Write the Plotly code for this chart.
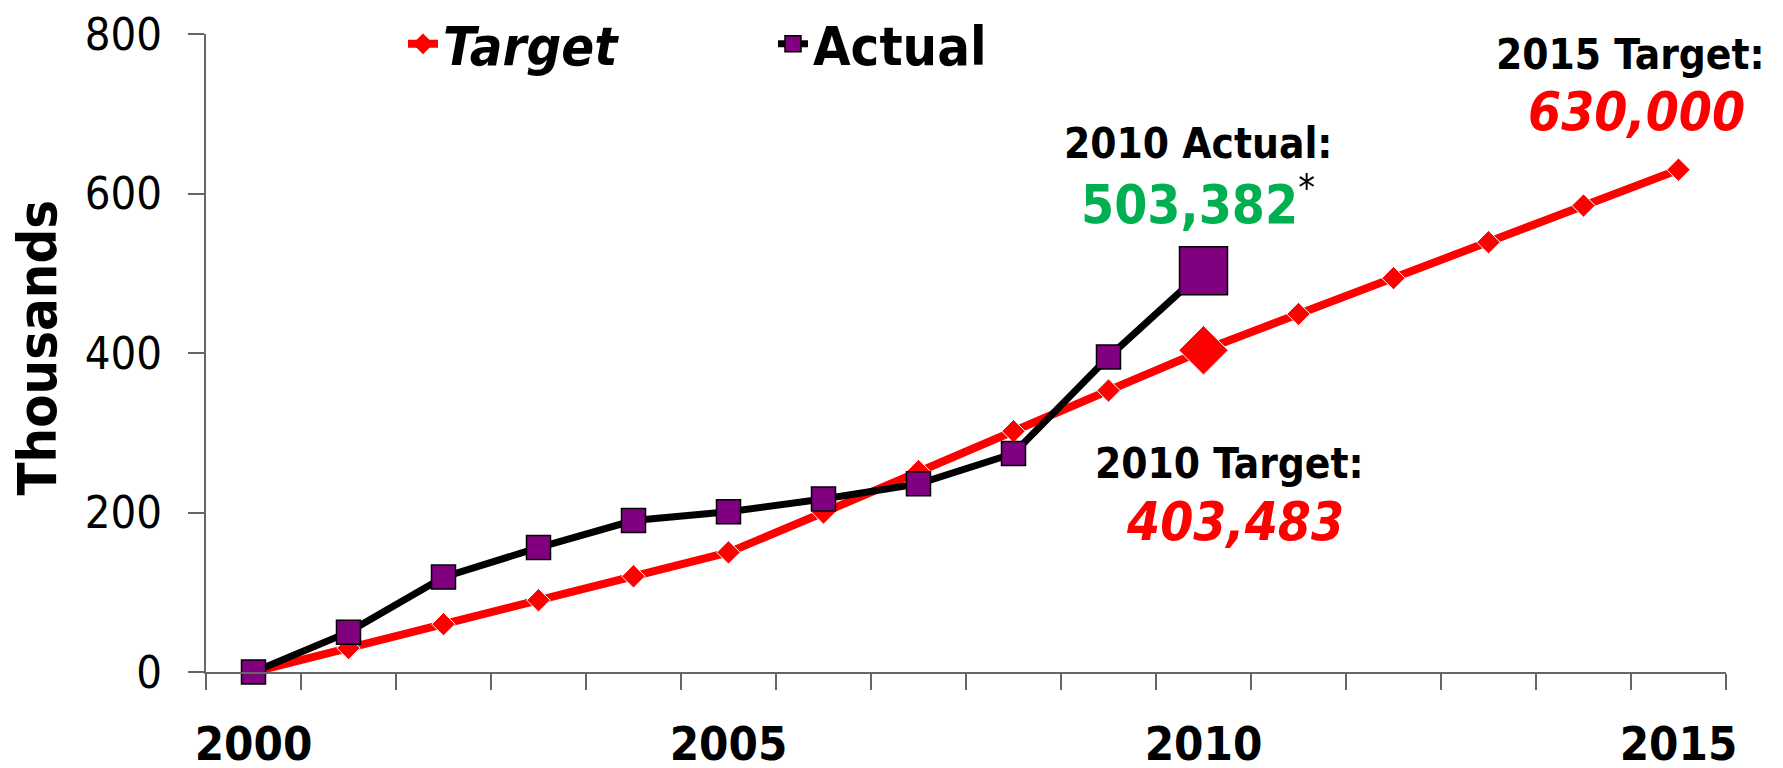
import plotly.graph_objects as go

# Datos (miles)
anios = list(range(2000, 2016))
meta = [0, 30, 60, 90, 120, 150, 200, 252, 302, 353, 403.483, 449, 494, 539, 585, 630]
anios_real = list(range(2000, 2011))
real = [0, 50, 119, 156, 190, 201, 217, 236, 274, 395, 503.382]

etiquetas_x = [2000, 2005, 2010, 2015]
etiquetas_y = [0, 200, 400, 600, 800]

FUENTE = "'DejaVu Sans Condensed', 'DejaVu Sans', sans-serif"

# Tamaños de marcador (el punto 2010 va resaltado)
tam_meta = [18] * len(anios)
tam_meta[anios.index(2010)] = 38
tam_real = [24] * len(anios_real)
tam_real[-1] = 48

fig = go.Figure()

fig.add_trace(go.Scatter(
    x=anios, y=meta,
    name="Target", showlegend=False,
    mode="lines+markers",
    line=dict(color="#FF0000", width=8),
    marker=dict(symbol="diamond", color="#FF0000", size=tam_meta, opacity=1),
    cliponaxis=False,
))

fig.add_trace(go.Scatter(
    x=anios_real, y=real,
    name="Actual", showlegend=False,
    mode="lines+markers",
    line=dict(color="black", width=7),
    marker=dict(symbol="square", color="#800080", size=tam_real, opacity=1,
                line=dict(color="black", width=1.5)),
    cliponaxis=False,
))

#Entradas de leyenda (sin puntos, solo para el simbolo)
fig.add_trace(go.Scatter(
    x=[None], y=[None], name="<b><i>Target</i></b>", mode="lines+markers",
    line=dict(color="#FF0000", width=8),
    marker=dict(symbol="diamond", color="#FF0000", size=16),
))
fig.add_trace(go.Scatter(
    x=[None], y=[None], name="<b>Actual</b>", mode="lines+markers",
    line=dict(color="black", width=7),
    marker=dict(symbol="square", color="#800080", size=18,
                line=dict(color="black", width=1.5)),
))

#Anotaciones de los valores clave
notas = [
    (2009.94, 663.3, "<b>2010 Actual:</b>", 42),
    (2009.94, 590.6, "<b><span style='color:#00B050'>503,382</span></b><sup>*</sup>", 53),
    (2010.27, 261.4, "<b>2010 Target:</b>", 42),
    (2010.33, 189.3, "<b><i><span style='color:#FF0000'>403,483</span></i></b>", 53),
    (2014.49, 775, "<b>2015 Target:</b>", 42),
    (2014.56, 702.6, "<b><i><span style='color:#FF0000'>630,000</span></i></b>", 53),
]
for x, y, texto, tam in notas:
    fig.add_annotation(x=x, y=y, text=texto, showarrow=False,
                       xanchor="center", yanchor="middle",
                       font=dict(size=tam, color="black", family=FUENTE))

fig.add_annotation(
    x=-0.111, y=0.509, xref="paper", yref="paper",
    text="<b>Thousands</b>", textangle=-90, showarrow=False,
    xanchor="center", yanchor="middle",
    font=dict(size=54, color="black", family=FUENTE),
)

# La pagina tiene 8px de margen en el body: la figura se ajusta a eso
fig.update_layout(
    width=1775, height=760,
    margin=dict(l=198, r=57, t=26, b=96, autoexpand=False),
    paper_bgcolor="white",
    plot_bgcolor="white",
    font=dict(family=FUENTE, color="black"),
    showlegend=True,
    legend=dict(
        orientation="h",
        x=0.1296, y=0.984, xanchor="left", yanchor="middle",
        font=dict(size=54, color="black"),
        entrywidth=325,
        bgcolor="rgba(0,0,0,0)",
    ),
)

fig.update_xaxes(
    range=[1999.5, 2015.5],
    tickmode="array", tickvals=etiquetas_x,
    ticks="",
    tickfont=dict(size=47, family=FUENTE, weight="bold"),
    ticklabelstandoff=30,
    ticklabeloverflow="allow",
    automargin=False,
    showline=True, linecolor="#666666", linewidth=2,
    showgrid=False, zeroline=False,
    minor=dict(tick0=1999.5, dtick=1, ticks="outside", ticklen=16,
               tickcolor="#666666", tickwidth=2, showgrid=False),
)

fig.update_yaxes(
    range=[0, 800.2],
    tickmode="array", tickvals=etiquetas_y,
    ticks="outside", ticklen=16, tickcolor="#666666", tickwidth=2,
    tickfont=dict(size=45, family=FUENTE),
    ticklabelstandoff=17,
    ticklabeloverflow="allow",
    automargin=False,
    showline=True, linecolor="#666666", linewidth=2,
    showgrid=False, zeroline=False,
)

fig.write_html("out.html")
